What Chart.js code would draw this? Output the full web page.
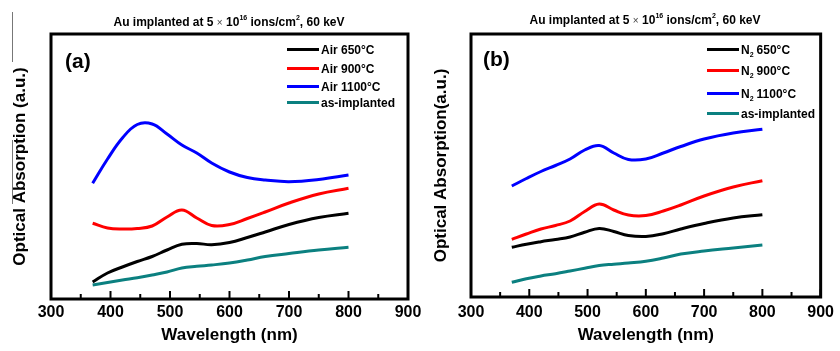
<!DOCTYPE html>
<html>
<head>
<meta charset="utf-8">
<script src="https://cdn.jsdelivr.net/npm/chart.js@4.4.1/dist/chart.umd.min.js"></script>
<style>
  body { margin: 0; background: #fff; font-family: 'Liberation Sans', Arial, sans-serif; }
  #wrap { position: relative; width: 840px; height: 351px; overflow: hidden; }
  canvas { position: absolute; top: 0; }
  .ttl { position: absolute; font-weight: bold; font-size: 12px; line-height: 1; white-space: nowrap; transform: translateX(-50%); }
  .ttl sup { font-size: 7px; vertical-align: top; position: relative; top: -2px; }
  .ttl .times { font-weight: normal; font-size: 10px; color: #444; }
  .tag { position: absolute; font-weight: bold; font-size: 21px; line-height: 1; }
  .leg { position: absolute; font-weight: bold; font-size: 12px; line-height: 1; white-space: nowrap; }
  .leg i { display: inline-block; width: 32px; height: 3px; margin-right: 2px; vertical-align: middle; position: relative; top: -1px; }
  .leg sub { font-size: 7px; vertical-align: bottom; position: relative; top: 2px; margin-right: 3px; }
  .rule { position: absolute; left: 12px; width: 1px; background: #777; }
</style>
</head>
<body>
<div id="wrap">
  <canvas id="chartA" width="430" height="351" style="left:0"></canvas>
  <canvas id="chartB" width="430" height="351" style="left:410px"></canvas>
  <div class="rule" style="top:12px;height:50px"></div>
  <div class="rule" style="top:140px;height:64px"></div>
  <div class="ttl" style="left:229px;top:16px">Au implanted at 5 <span class="times">×</span> 10<sup>16</sup> ions/cm<sup>2</sup>, 60 keV</div>
  <div class="ttl" style="left:645px;top:14px">Au implanted at 5 <span class="times">×</span> 10<sup>16</sup> ions/cm<sup>2</sup>, 60 keV</div>
  <div class="tag" style="left:65px;top:50px">(a)</div>
  <div class="tag" style="left:483px;top:48px">(b)</div>
  <div id="legA"></div>
  <div id="legB"></div>
</div>
<script>
// wavelength (nm) sampled along every curve
const wavelengths = [370, 395, 420, 445, 470, 495, 520, 545, 570, 600, 630, 660, 700, 750, 800];

// panel (a): annealed in air
const air650  = [18, 27, 33, 38.5, 43.5, 50, 55.7, 56.5, 55.3, 57.5, 62.5, 68, 75.5, 82.5, 86.7];
const air900  = [76.7, 72, 71, 71.5, 74, 83, 90, 82, 74.5, 75.5, 81.5, 88, 97, 106, 111.7];
const air1100 = [116.7, 141, 162, 175.5, 176, 166, 155, 147, 137, 128, 122.5, 120, 118.3, 120.5, 125];
const asImplA = [15, 17.5, 20, 22.3, 25, 28, 32, 33.7, 35, 37, 40, 43.5, 46.5, 50, 52.7];

// panel (b): annealed in N2
const n2_650  = [48.7, 51.8, 54.3, 56.5, 59, 63.7, 67.5, 64.5, 60.5, 59.5, 62.3, 67, 72.5, 78, 81.3];
const n2_900  = [56.7, 62, 67, 70.5, 75, 84.5, 92, 86, 81, 80.5, 85, 91, 100, 109, 115.3];
const n2_1100 = [110, 117.5, 124.5, 130.5, 137, 146, 150.5, 143, 136.5, 137, 143, 149.5, 157, 163, 166.7];
const asImplB = [13.7, 17.3, 20, 22.3, 25, 27.8, 30.5, 31.8, 33, 34.7, 38, 42, 45, 48, 51];

const xTicks = [300, 400, 500, 600, 700, 800, 900];
const xMinorTicks = [350, 450, 550, 650, 750, 850];

const legendA = ['Air 650°C', 'Air 900°C', 'Air 1100°C', 'as-implanted'];
const legendB = ['N<sub>2</sub>650°C', 'N<sub>2</sub>900°C', 'N<sub>2</sub>1100°C', 'as-implanted'];
const colors = ['#000000', '#ff0000', '#0000ff', '#0b8080'];

Chart.defaults.font.family = "'Liberation Sans', Arial, sans-serif";
Chart.defaults.color = '#000';

const framePlugin = {
  id: 'frame',
  afterDatasetsDraw(chart) {
    const { ctx, chartArea: a, scales: { x } } = chart;
    ctx.save();
    ctx.strokeStyle = '#000';
    ctx.lineWidth = 2;
    xTicks.concat(xMinorTicks).forEach(v => {
      const px = x.getPixelForValue(v);
      const len = xTicks.includes(v) ? 8 : 5;
      ctx.beginPath();
      ctx.moveTo(px, a.bottom);
      ctx.lineTo(px, a.bottom - len);
      ctx.stroke();
    });
    ctx.lineWidth = 3;
    ctx.strokeRect(a.left, a.top, a.right - a.left, a.bottom - a.top);
    ctx.restore();
  }
};

function toPoints(arr) {
  return wavelengths.map((w, i) => ({ x: w, y: arr[i] }));
}

function makeChart(id, series, labels, opt) {
  new Chart(document.getElementById(id), {
    type: 'line',
    data: {
      datasets: series.map((s, i) => ({
        label: labels[i],
        data: toPoints(s),
        borderColor: colors[i],
        borderWidth: 3,
        pointRadius: 0,
        tension: 0.4,
        fill: false
      }))
    },
    options: {
      responsive: false,
      animation: false,
      layout: { padding: { top: 34, right: opt.padRight, left: 0, bottom: 0 } },
      plugins: { legend: { display: false }, tooltip: { enabled: false } },
      scales: {
        x: {
          type: 'linear',
          min: 300,
          max: 900,
          afterBuildTicks: s => { s.ticks = xTicks.map(v => ({ value: v })); },
          afterFit: s => { s.height = opt.xHeight; },
          ticks: { font: { size: 16, weight: 'bold' }, padding: opt.tickPad, maxRotation: 0 },
          grid: { display: false, drawTicks: false },
          border: { display: false },
          title: {
            display: true,
            text: 'Wavelength (nm)',
            font: { size: 17, weight: 'bold' },
            padding: { top: 5, bottom: 5 }
          }
        },
        y: {
          min: opt.yMin,
          max: opt.yMax,
          afterFit: s => { s.width = opt.yWidth; },
          ticks: { display: false },
          grid: { display: false, drawTicks: false },
          border: { display: false },
          title: {
            display: true,
            text: opt.yTitle,
            font: { size: 17, weight: 'bold' },
            padding: { top: opt.yTitlePad, bottom: opt.yTitlePad }
          }
        }
      }
    },
    plugins: [framePlugin]
  });
}

makeChart('chartA', [air650, air900, air1100, asImplA], legendA, {
  padRight: 22, xHeight: 52, tickPad: 4, yMin: 1, yMax: 266, yWidth: 51,
  yTitle: 'Optical Absorption (a.u.)', yTitlePad: 10
});
makeChart('chartB', [n2_650, n2_900, n2_1100, asImplB], legendB, {
  padRight: 11, xHeight: 54, tickPad: 6, yMin: -1, yMax: 262, yWidth: 61,
  yTitle: 'Optical Absorption(a.u.)', yTitlePad: 21
});

function makeLegend(id, labels, left, rows) {
  const box = document.getElementById(id);
  labels.forEach((t, i) => {
    const d = document.createElement('div');
    d.className = 'leg';
    d.style.left = left + 'px';
    d.style.top = (rows[i] - 6) + 'px';
    d.innerHTML = '<i style="background:' + colors[i] + '"></i>' + t;
    box.appendChild(d);
  });
}
makeLegend('legA', legendA, 287, [50, 68.5, 86.5, 102.5]);
makeLegend('legB', legendB, 707, [49.5, 71, 94, 114]);
</script>
</body>
</html>
